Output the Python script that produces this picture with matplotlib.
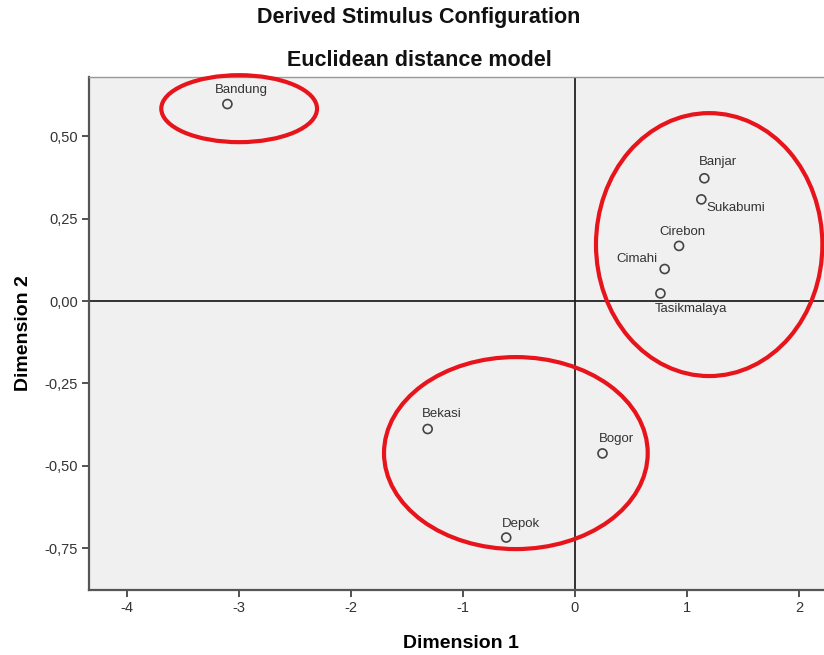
import numpy as np
import matplotlib
matplotlib.use("Agg")
import matplotlib.pyplot as plt
from matplotlib.patches import Ellipse
from matplotlib.ticker import FuncFormatter

plt.rcParams['font.family'] = ['Liberation Sans', 'DejaVu Sans']

# Stimulus coordinates (Euclidean distance model)
cities = ['Bandung', 'Banjar', 'Sukabumi', 'Cirebon', 'Cimahi',
          'Tasikmalaya', 'Bekasi', 'Bogor', 'Depok']
dim1 = [-3.10, 1.156, 1.129, 0.93, 0.802, 0.764, -1.313, 0.247, -0.612]
dim2 = [0.597, 0.372, 0.308, 0.167, 0.097, 0.023, -0.388, -0.462, -0.717]

# label offsets in pixels (left/baseline relative to point)
label_off = [(-13, 11), (-5, 13), (5, -12), (-20, 11), (-48, 7),
             (-6, -19), (-6, 12), (-4, 11), (-4, 11)]

# hand-drawn cluster ellipses: centre x, centre y, width, height (data units)
ell_cx = [-2.995, 1.199, -0.526]
ell_cy = [0.583, 0.171, -0.461]
ell_w = [1.39, 2.02, 2.353]
ell_h = [0.203, 0.797, 0.582]

xticks = [-4, -3, -2, -1, 0, 1, 2]
yticks = [0.50, 0.25, 0.00, -0.25, -0.50, -0.75]

W, H = 824, 655
fig = plt.figure(figsize=(W / 100, H / 100), dpi=100)
ax = fig.add_axes([89 / W, 1 - 590 / H, (832 - 89) / W, (590 - 77) / H])
ax.set_facecolor('#f0f0f0')
ax.set_xlim(-4.335, 2.295)
ax.set_ylim(-0.876, 0.679)

ax.axhline(0, color='#222222', lw=1.3, zorder=1)
ax.axvline(0, color='#222222', lw=1.3, zorder=1)

ax.scatter(dim1, dim2, s=42, facecolors='none', edgecolors='#444444',
           linewidths=1.2, zorder=3)
for name, x, y, off in zip(cities, dim1, dim2, label_off):
    ax.annotate(name, (x, y), xytext=off, textcoords='offset pixels',
                ha='left', va='baseline', fontsize=9.5, color='#333333',
                zorder=4)

for cx, cy, w, h in zip(ell_cx, ell_cy, ell_w, ell_h):
    ax.add_patch(Ellipse((cx, cy), w, h, fill=False, edgecolor='#e8141c',
                         lw=3.0, zorder=5, clip_on=False))

ax.set_xticks(xticks)
ax.set_yticks(yticks)
ax.xaxis.set_major_formatter(FuncFormatter(lambda v, p: f'{v:.0f}'))
ax.yaxis.set_major_formatter(FuncFormatter(lambda v, p: f'{v:.2f}'.replace('.', ',')))
ax.tick_params(direction='out', length=5, width=1.3, color='#444444',
               labelsize=10.5, labelcolor='#333333', pad=3)

for s in ['left', 'bottom']:
    ax.spines[s].set_color('#555555')
    ax.spines[s].set_linewidth(1.6)
ax.spines['top'].set_color('#999999')
ax.spines['top'].set_linewidth(1.0)
ax.spines['right'].set_visible(False)

ax.set_xlabel('Dimension 1', fontsize=14, fontweight='bold', labelpad=14)
ax.set_ylabel('Dimension 2', fontsize=14, fontweight='bold', labelpad=9)

fig.text(419 / W, 1 - 18 / H, 'Derived Stimulus Configuration', ha='center',
         va='center', fontsize=15.5, fontweight='bold', color='#111111')
fig.text(419 / W, 1 - 60 / H, 'Euclidean distance model', ha='center',
         va='center', fontsize=15.5, fontweight='bold', color='#111111')

fig.savefig('out.png', dpi=100, facecolor='white')
